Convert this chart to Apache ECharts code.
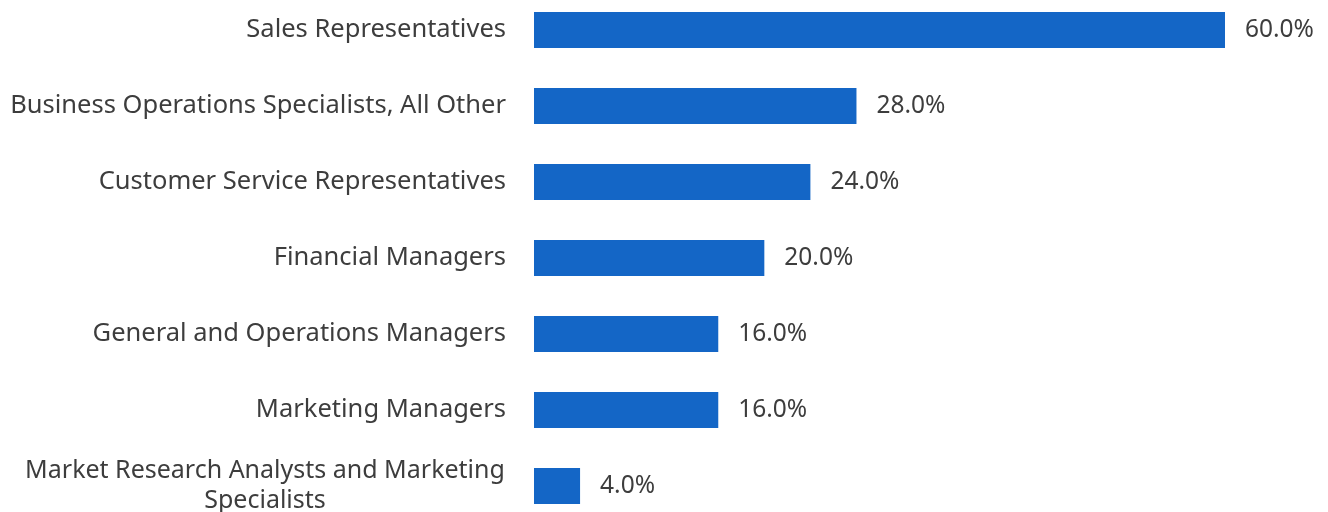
<!DOCTYPE html>
<html>
<head>
<meta charset="utf-8">
<script src="https://cdn.jsdelivr.net/npm/echarts@6/dist/echarts.min.js"></script>
<style>
  html, body { margin: 0; padding: 0; background: #ffffff; overflow: hidden; }
  #wrap { width: 1328px; height: 512px; overflow: hidden; position: relative; }
  #chart { width: 1328px; height: 532px; position: absolute; left: 0; top: -8px; }
</style>
</head>
<body>
<div id="wrap"><div id="chart"></div></div>
<script>
// Occupations, top to bottom
const categories = [
  'Sales Representatives',
  'Business Operations Specialists, All Other',
  'Customer Service Representatives',
  'Financial Managers',
  'General and Operations Managers',
  'Marketing Managers',
  'Market Research Analysts and Marketing\nSpecialists'
];
// Share of postings, percent
const shares = [60.0, 28.0, 24.0, 20.0, 16.0, 16.0, 4.0];

const chart = echarts.init(document.getElementById('chart'), null, { renderer: 'canvas' });
chart.setOption({
  backgroundColor: '#ffffff',
  animation: false,
  grid: { left: 534, right: 103, top: 0, bottom: 0, containLabel: false },
  xAxis: {
    type: 'value',
    min: 0,
    max: 60,
    show: false
  },
  yAxis: {
    type: 'category',
    data: categories,
    inverse: true,
    axisLine: { show: false },
    axisTick: { show: false },
    axisLabel: {
      margin: 28,
      color: '#3d3d3d',
      fontFamily: 'Noto Sans',
      fontSize: 25.5,
      lineHeight: 30,
      align: 'right',
      // wrapped names are centred under their first line
      formatter: v => v.indexOf('\n') >= 0 ? '{c|' + v + '}' : v,
      rich: {
        c: {
          width: 482,
          align: 'center',
          color: '#3d3d3d',
          fontFamily: 'Noto Sans',
          fontSize: 25,
          lineHeight: 30
        }
      }
    }
  },
  series: [{
    type: 'bar',
    data: shares,
    barWidth: 36,
    itemStyle: { color: '#1466c6' },
    label: {
      show: true,
      position: 'right',
      distance: 20,
      color: '#3d3d3d',
      fontFamily: 'Noto Sans',
      fontSize: 24.5,
      formatter: p => p.value.toFixed(1) + '%'
    }
  }]
});
</script>
</body>
</html>
